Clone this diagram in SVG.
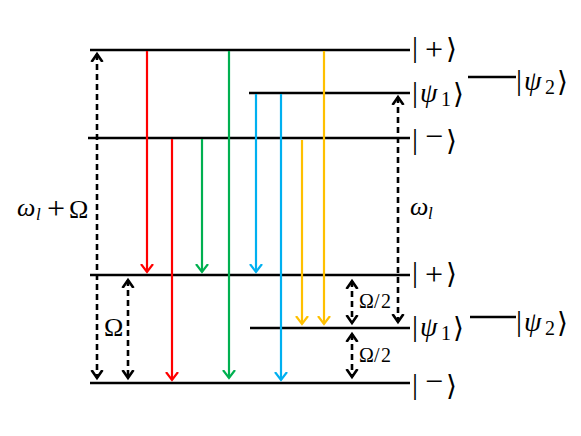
<svg xmlns="http://www.w3.org/2000/svg" width="581" height="436" viewBox="0 0 581 436">
<style>
.lvl{stroke:#000;stroke-width:2.5;fill:none}
.arr{stroke-width:2.2;fill:none}
.dash{stroke:#000;stroke-width:2.6;stroke-dasharray:6,4;fill:none}
text{font-family:"Liberation Serif","DejaVu Serif",serif;fill:#000}
.bar{font-size:30px}
.op{font-size:32px}
.ang{font-family:"DejaVu Sans",sans-serif;font-size:28px}
.psi{font-size:28px;font-style:italic}
.sub{font-size:20px}
.om{font-size:26px;font-style:italic}
.oms{font-size:17px;font-style:italic}
.big{font-size:26px}
.sm{font-size:20px}
</style>
<defs>
<marker id="mr" markerUnits="userSpaceOnUse" markerWidth="14" markerHeight="14" refX="8" refY="7" orient="auto"><path d="M0,1 L8,7 L0,13" fill="none" stroke="#FF0000" stroke-width="2.2"/></marker>
<marker id="mg" markerUnits="userSpaceOnUse" markerWidth="14" markerHeight="14" refX="8" refY="7" orient="auto"><path d="M0,1 L8,7 L0,13" fill="none" stroke="#00B050" stroke-width="2.2"/></marker>
<marker id="mb" markerUnits="userSpaceOnUse" markerWidth="14" markerHeight="14" refX="8" refY="7" orient="auto"><path d="M0,1 L8,7 L0,13" fill="none" stroke="#00B0F0" stroke-width="2.2"/></marker>
<marker id="my" markerUnits="userSpaceOnUse" markerWidth="14" markerHeight="14" refX="8" refY="7" orient="auto"><path d="M0,1 L8,7 L0,13" fill="none" stroke="#FFC000" stroke-width="2.2"/></marker>
<marker id="mk" markerUnits="userSpaceOnUse" markerWidth="14" markerHeight="14" refX="8" refY="7" orient="auto"><path d="M0,1.5 L8,7 L0,12.5" fill="none" stroke="#000" stroke-width="2.6"/></marker>
<marker id="mks" markerUnits="userSpaceOnUse" markerWidth="14" markerHeight="14" refX="8" refY="7" orient="auto-start-reverse"><path d="M0,1.5 L8,7 L0,12.5" fill="none" stroke="#000" stroke-width="2.6"/></marker>
</defs>

<g id="upper-plus"><line class="lvl" x1="90" y1="50" x2="410" y2="50"/><text><tspan class="bar" x="412" y="57">|</tspan><tspan class="op" x="425" y="60">+</tspan><tspan class="ang" x="446" y="58">⟩</tspan></text></g>
<g id="upper-psi1"><line class="lvl" x1="249" y1="93" x2="410" y2="93"/><text><tspan class="bar" x="412" y="102">|</tspan><tspan class="psi" x="420" y="102">ψ</tspan><tspan class="sub" x="441" y="106">1</tspan><tspan class="ang" x="453" y="103">⟩</tspan></text></g>
<g id="upper-psi2"><line class="lvl" x1="468" y1="77" x2="516" y2="77"/><text><tspan class="bar" x="516" y="90">|</tspan><tspan class="psi" x="524" y="90">ψ</tspan><tspan class="sub" x="545" y="94">2</tspan><tspan class="ang" x="557" y="91">⟩</tspan></text></g>
<g id="upper-minus"><line class="lvl" x1="88" y1="138" x2="410" y2="138"/><text><tspan class="bar" x="412" y="149">|</tspan><tspan class="op" x="425" y="147">−</tspan><tspan class="ang" x="446" y="150">⟩</tspan></text></g>
<g id="lower-plus"><line class="lvl" x1="90" y1="275" x2="410" y2="275"/><text><tspan class="bar" x="412" y="282">|</tspan><tspan class="op" x="425" y="285">+</tspan><tspan class="ang" x="446" y="283">⟩</tspan></text></g>
<g id="lower-psi1"><line class="lvl" x1="250" y1="328" x2="410" y2="328"/><text><tspan class="bar" x="412" y="336">|</tspan><tspan class="psi" x="420" y="336">ψ</tspan><tspan class="sub" x="441" y="340">1</tspan><tspan class="ang" x="453" y="337">⟩</tspan></text></g>
<g id="lower-psi2"><line class="lvl" x1="470" y1="317" x2="516" y2="317"/><text><tspan class="bar" x="516" y="331">|</tspan><tspan class="psi" x="524" y="331">ψ</tspan><tspan class="sub" x="545" y="335">2</tspan><tspan class="ang" x="557" y="332">⟩</tspan></text></g>
<g id="lower-minus"><line class="lvl" x1="90" y1="383" x2="410" y2="383"/><text><tspan class="bar" x="412" y="394">|</tspan><tspan class="op" x="425" y="392">−</tspan><tspan class="ang" x="446" y="395">⟩</tspan></text></g>

<g id="connectors">
<line class="arr" stroke="#FF0000" x1="147" y1="51" x2="147" y2="272" marker-end="url(#mr)"/>
<line class="arr" stroke="#FF0000" x1="172" y1="139" x2="172" y2="380" marker-end="url(#mr)"/>
<line class="arr" stroke="#00B050" x1="202" y1="139" x2="202" y2="272" marker-end="url(#mg)"/>
<line class="arr" stroke="#00B050" x1="229" y1="51" x2="229" y2="378" marker-end="url(#mg)"/>
<line class="arr" stroke="#00B0F0" x1="256" y1="94" x2="256" y2="272" marker-end="url(#mb)"/>
<line class="arr" stroke="#00B0F0" x1="281" y1="94" x2="281" y2="380" marker-end="url(#mb)"/>
<line class="arr" stroke="#FFC000" x1="302" y1="140" x2="302" y2="324" marker-end="url(#my)"/>
<line class="arr" stroke="#FFC000" x1="324" y1="51" x2="324" y2="324" marker-end="url(#my)"/>

<line class="dash" x1="97" y1="54" x2="97" y2="378" marker-start="url(#mks)" marker-end="url(#mk)"/>
<line class="dash" x1="128" y1="280" x2="128" y2="378" marker-start="url(#mks)" marker-end="url(#mk)"/>
<line class="dash" x1="398" y1="97" x2="398" y2="322" marker-start="url(#mks)" marker-end="url(#mk)"/>
<line class="dash" x1="352" y1="281" x2="352" y2="323" marker-start="url(#mks)" marker-end="url(#mk)"/>
<line class="dash" x1="352" y1="334" x2="352" y2="377" marker-start="url(#mks)" marker-end="url(#mk)"/>
</g>

<g id="labels">
<text><tspan class="om" x="17" y="216">ω</tspan><tspan class="oms" x="36" y="220">l</tspan><tspan class="op" x="47" y="219">+</tspan><tspan class="big" x="69" y="218">Ω</tspan></text>
<text class="big" x="104" y="336">Ω</text>
<text><tspan class="om" x="410" y="215">ω</tspan><tspan class="oms" x="428" y="219">l</tspan></text>
<text class="sm"><tspan x="359" y="308">Ω</tspan><tspan x="374" y="308">/</tspan><tspan x="381" y="308">2</tspan></text>
<text class="sm"><tspan x="359" y="362">Ω</tspan><tspan x="374" y="362">/</tspan><tspan x="381" y="362">2</tspan></text>
</g>
</svg>
